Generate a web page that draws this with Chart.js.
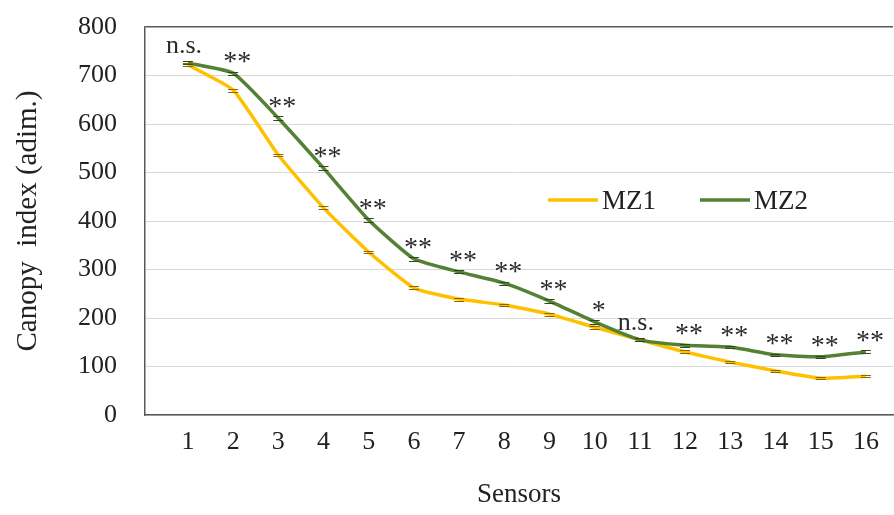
<!DOCTYPE html>
<html>
<head>
<meta charset="utf-8">
<script src="https://cdn.jsdelivr.net/npm/chart.js@4.4.1/dist/chart.umd.min.js"></script>
<style>
  html,body{margin:0;padding:0;background:#fff;}
  #wrap{width:894px;height:515px;}
</style>
</head>
<body>
<div id="wrap"><canvas id="c" width="894" height="515"></canvas></div>
<script>
const sensors = [1,2,3,4,5,6,7,8,9,10,11,12,13,14,15,16];
const mz1 = [722,670,536,427,336,262,239,227,208,181,155,130,109,91,76,80];
const mz2 = [726,705,612,509,402,322,295,272,235,192,155,144,140,124,120,130];
const mz1Err = [3,3,3,3,3,3,3,2,3,3,2,3,2,2,2,2];
const mz2Err = [3,3,4,4,4,4,3,3,4,4,3,3,2,2,2,3];
const signif = ['n.s.','**','**','**','**','**','**','**','**','*','n.s.','**','**','**','**','**'];
const yTicks = [0,100,200,300,400,500,600,700,800];

const serif = '"Liberation Serif", "Times New Roman", serif';
const YELLOW = '#FFC000';
const GREEN = '#548235';

function pts(arr){ return sensors.map((s,i)=>({x:s, y:arr[i]})); }

// error caps + significance marks
const marks = {
  id:'marks',
  afterDatasetsDraw(chart){
    const {ctx, scales:{x,y}} = chart;
    ctx.save();
    [[mz1, mz1Err, '#8a6a00'], [mz2, mz2Err, '#2d4a1c']].forEach(([vals, errs, col])=>{
      ctx.strokeStyle = col; ctx.lineWidth = 1;
      vals.forEach((v,i)=>{
        const px = x.getPixelForValue(sensors[i]);
        [v+errs[i], v-errs[i]].forEach(e=>{
          const py = Math.round(y.getPixelForValue(e))+0.5;
          ctx.beginPath(); ctx.moveTo(px-5, py); ctx.lineTo(px+5, py); ctx.stroke();
        });
      });
    });
    ctx.fillStyle = '#2a2a2a';
    ctx.textAlign = 'center';
    ctx.textBaseline = 'alphabetic';
    signif.forEach((s,i)=>{
      const px = x.getPixelForValue(sensors[i]);
      const py = y.getPixelForValue(Math.max(mz1[i], mz2[i]));
      if (s === 'n.s.') {
        ctx.font = '26px ' + serif;
        ctx.fillText(s, px - 4, py - 10);
      } else {
        ctx.font = '28px ' + serif;
        ctx.fillText(s, px + 4, py - 3);
      }
    });
    ctx.restore();
  }
};

// legend inside the plot
const innerLegend = {
  id:'innerLegend',
  afterDraw(chart){
    const {ctx} = chart;
    ctx.save();
    ctx.font = '27px ' + serif;
    ctx.textBaseline = 'middle';
    ctx.fillStyle = '#222';
    const items = [[548, 0], [700, 1]];
    items.forEach(([lx, di])=>{
      const ds = chart.data.datasets[di];
      ctx.strokeStyle = ds.borderColor; ctx.lineWidth = 3.5;
      ctx.beginPath(); ctx.moveTo(lx, 200); ctx.lineTo(lx+50, 200); ctx.stroke();
      ctx.fillText(ds.label, lx+54, 202);
    });
    ctx.restore();
  }
};

new Chart(document.getElementById('c'), {
  type:'line',
  data:{
    datasets:[
      { label:'MZ1', data:pts(mz1), borderColor:YELLOW, borderWidth:3.5, pointRadius:0, tension:0.15, order:1 },
      { label:'MZ2', data:pts(mz2), borderColor:GREEN, borderWidth:3.5, pointRadius:0, tension:0.15, order:0 }
    ]
  },
  options:{
    responsive:false,
    animation:false,
    layout:{ padding:{ left:0, top:27, right:1, bottom:0 } },
    plugins:{ legend:{ display:false }, tooltip:{ enabled:false } },
    scales:{
      x:{
        type:'linear', min:0.05, max:16.6,
        afterBuildTicks(s){ s.ticks = sensors.map(v=>({value:v})); },
        afterFit(s){ s.height = 100; s.paddingLeft = 0; s.paddingRight = 0; },
        grid:{ display:false, drawTicks:false },
        border:{ display:true, color:'#595959', width:1.5 },
        ticks:{ color:'#222', font:{ family:serif, size:26 }, padding:12, maxRotation:0, autoSkip:false },
        title:{ display:true, text:'Sensors', color:'#222', font:{ family:serif, size:27 }, padding:{ top:0, bottom:4 } }
      },
      y:{
        min:0, max:800,
        afterBuildTicks(s){ s.ticks = yTicks.map(v=>({value:v})); },
        afterFit(s){ s.width = 145; s.paddingTop = 0; s.paddingBottom = 0; },
        grid:{ drawTicks:false, color:(c)=> c.tick && c.tick.value === 800 ? '#595959' : '#D9D9D9', lineWidth:(c)=> c.tick && c.tick.value === 800 ? 1.5 : 1 },
        border:{ display:true, color:'#595959', width:1.5 },
        ticks:{ color:'#222', font:{ family:serif, size:26 }, padding:28 },
        title:{ display:true, text:'Canopy  index (adim.)', color:'#222', font:{ family:serif, size:29 }, padding:{ top:11, bottom:0 } }
      }
    }
  },
  plugins:[marks, innerLegend]
});
</script>
</body>
</html>
